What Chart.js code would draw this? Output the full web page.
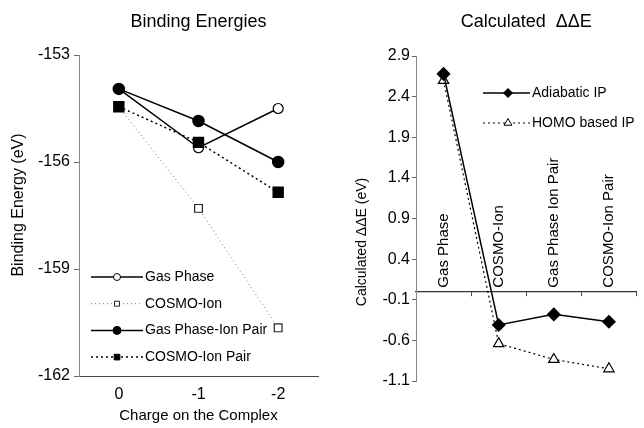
<!DOCTYPE html>
<html>
<head>
<meta charset="utf-8">
<script src="https://cdn.jsdelivr.net/npm/chart.js@4/dist/chart.umd.min.js"></script>
<style>
body { margin: 0; background: #fff; }
#bindingChart { position: absolute; left: 0; top: 0; }
#ddeChart { position: absolute; left: 330px; top: 0; }
</style>
</head>
<body>
<canvas id="bindingChart" width="330" height="428"></canvas>
<canvas id="ddeChart" width="314" height="428"></canvas>
<script>
// left panel: binding energies vs charge
const charges = ['0', '-1', '-2'];
const gasPhase = [-153.95, -155.6, -154.5];
const cosmoIon = [-154.45, -157.3, -160.65];
const gasPhaseIonPair = [-153.95, -154.85, -156.0];
const cosmoIonPair = [-154.45, -155.45, -156.85];

// right panel: calculated delta delta E
const methods = ['Gas Phase', 'COSMO-Ion', 'Gas Phase Ion Pair', 'COSMO-Ion Pair'];
const adiabaticIP = [2.68, -0.41, -0.28, -0.37];
const homoIP = [2.60, -0.64, -0.835, -0.95];

Chart.defaults.font.family = '"Liberation Sans", Arial, sans-serif';
Chart.defaults.color = '#000';

// legend drawn inside the plot area
const insideLegend = {
    id: 'insideLegend',
    afterDatasetsDraw(chart, args, opts) {
        let ctx = chart.ctx;
        let area = chart.chartArea;
        ctx.save();
        chart.data.datasets.forEach((ds, i) => {
            let x = area.left + opts.left;
            let y = area.top + opts.top + i * opts.gap;
            ctx.strokeStyle = ds.borderColor;
            ctx.lineWidth = ds.borderWidth;
            ctx.setLineDash(ds.borderDash || []);
            ctx.beginPath();
            ctx.moveTo(x, y);
            ctx.lineTo(x + opts.lineLength, y);
            ctx.stroke();
            ctx.setLineDash([]);
            ctx.fillStyle = ds.pointBackgroundColor;
            ctx.strokeStyle = ds.pointBorderColor;
            ctx.lineWidth = 1;
            Chart.helpers.drawPoint(ctx, {
                pointStyle: ds.pointStyle,
                radius: ds.legendRadius,
                borderWidth: 1,
                rotation: 0
            }, x + opts.markerAt, y);
            ctx.fillStyle = '#000';
            ctx.font = opts.font;
            ctx.textAlign = 'left';
            ctx.textBaseline = 'middle';
            ctx.fillText(ds.label, x + opts.lineLength + 2, y);
        });
        ctx.restore();
    }
};

// rotated y axis title at a set spot
const sideTitle = {
    id: 'sideTitle',
    afterDraw(chart, args, opts) {
        let ctx = chart.ctx;
        ctx.save();
        ctx.translate(opts.x, opts.y);
        ctx.rotate(-Math.PI / 2);
        ctx.font = opts.font;
        ctx.fillStyle = '#000';
        ctx.textAlign = 'center';
        ctx.textBaseline = 'middle';
        ctx.fillText(opts.text, 0, 0);
        ctx.restore();
    }
};

// category names written upwards just above the zero line
const upLabels = {
    id: 'upLabels',
    afterDraw(chart, args, opts) {
        let ctx = chart.ctx;
        let xs = chart.scales.x;
        let y0 = chart.scales.y.getPixelForValue(0);
        ctx.save();
        ctx.font = opts.font;
        ctx.fillStyle = '#000';
        ctx.textAlign = 'left';
        ctx.textBaseline = 'middle';
        chart.data.labels.forEach((label, i) => {
            ctx.save();
            ctx.translate(xs.getPixelForValue(i), y0 - 4);
            ctx.rotate(-Math.PI / 2);
            ctx.fillText(label, 0, 0);
            ctx.restore();
        });
        ctx.restore();
    }
};

new Chart(document.getElementById('bindingChart'), {
    type: 'line',
    data: {
        labels: charges,
        datasets: [{
            label: 'Gas Phase',
            data: gasPhase,
            order: 2,
            borderColor: '#000',
            borderWidth: 1.5,
            pointStyle: 'circle',
            pointRadius: 5,
            legendRadius: 3.5,
            pointBackgroundColor: '#fff',
            pointBorderColor: '#000',
            pointBorderWidth: 1.2
        }, {
            label: 'COSMO-Ion',
            data: cosmoIon,
            order: 3,
            borderColor: '#777',
            borderWidth: 1,
            borderDash: [1, 3],
            pointStyle: 'rect',
            pointRadius: 5.5,
            legendRadius: 3.5,
            pointBackgroundColor: '#fff',
            pointBorderColor: '#222',
            pointBorderWidth: 1.2
        }, {
            label: 'Gas Phase-Ion Pair',
            data: gasPhaseIonPair,
            order: 0,
            borderColor: '#000',
            borderWidth: 1.5,
            pointStyle: 'circle',
            pointRadius: 5.5,
            legendRadius: 4,
            pointBackgroundColor: '#000',
            pointBorderColor: '#000'
        }, {
            label: 'COSMO-Ion Pair',
            data: cosmoIonPair,
            order: 1,
            borderColor: '#000',
            borderWidth: 1.5,
            borderDash: [2, 3],
            pointStyle: 'rect',
            pointRadius: 7,
            legendRadius: 4,
            pointBackgroundColor: '#000',
            pointBorderColor: '#000'
        }]
    },
    options: {
        responsive: false,
        animation: false,
        layout: { padding: { left: 0, right: 12, top: 0, bottom: 3 } },
        plugins: {
            legend: { display: false },
            tooltip: { enabled: false },
            title: {
                display: true,
                text: 'Binding Energies',
                fullSize: false,
                font: { size: 18, weight: 'normal' },
                padding: { top: 11, bottom: 22.4 }
            },
            insideLegend: {
                left: 12, top: 222, gap: 26.7, lineLength: 52, markerAt: 26,
                font: '14px "Liberation Sans", Arial, sans-serif'
            },
            sideTitle: {
                text: 'Binding Energy (eV)', x: 19, y: 205,
                font: '16px "Liberation Sans", Arial, sans-serif'
            }
        },
        scales: {
            x: {
                offset: true,
                afterFit: s => { s.height = 49; },
                grid: { display: false, drawTicks: false },
                border: { display: true, color: '#444', width: 1 },
                ticks: { font: { size: 16 }, padding: 9 },
                title: {
                    display: true,
                    text: 'Charge on the Complex',
                    font: { size: 15 },
                    padding: { top: 4, bottom: 0 }
                }
            },
            y: {
                min: -162,
                max: -153,
                afterFit: s => { s.width = 79; },
                ticks: { stepSize: 3, font: { size: 16 }, padding: 4 },
                grid: { drawOnChartArea: false, tickLength: 5, color: '#666' },
                border: { display: true, color: '#888', width: 1 }
            }
        }
    },
    plugins: [insideLegend, sideTitle]
});

new Chart(document.getElementById('ddeChart'), {
    type: 'line',
    data: {
        labels: methods,
        datasets: [{
            label: 'Adiabatic IP',
            data: adiabaticIP,
            borderColor: '#000',
            borderWidth: 1.5,
            pointStyle: 'rectRot',
            pointRadius: 6,
            legendRadius: 4.5,
            pointBackgroundColor: '#000',
            pointBorderColor: '#000'
        }, {
            label: 'HOMO based IP',
            data: homoIP,
            borderColor: '#000',
            borderWidth: 1.2,
            borderDash: [2, 3],
            pointStyle: 'triangle',
            pointRadius: 6,
            legendRadius: 4.5,
            pointBackgroundColor: '#fff',
            pointBorderColor: '#000',
            pointBorderWidth: 1.2
        }]
    },
    options: {
        responsive: false,
        animation: false,
        layout: { padding: { left: 0, right: 0, top: 0, bottom: 47 } },
        plugins: {
            legend: { display: false },
            tooltip: { enabled: false },
            title: {
                display: true,
                text: 'Calculated  \u0394\u0394E',
                fullSize: false,
                font: { size: 18, weight: 'normal' },
                padding: { top: 11, bottom: 23.4 }
            },
            insideLegend: {
                left: 67, top: 37, gap: 30, lineLength: 47, markerAt: 25,
                font: '14px "Liberation Sans", Arial, sans-serif'
            },
            sideTitle: {
                text: 'Calculated \u0394\u0394E (eV)', x: 32, y: 242,
                font: '14px "Liberation Sans", Arial, sans-serif'
            },
            upLabels: { font: '15px "Liberation Sans", Arial, sans-serif' }
        },
        scales: {
            x: {
                position: { y: 0 },
                offset: true,
                ticks: { display: false },
                grid: { offset: true, drawOnChartArea: false, tickLength: 4, color: '#444' },
                border: { display: true, color: '#333', width: 1.2 }
            },
            y: {
                min: -1.1,
                max: 2.9,
                afterFit: s => { s.width = 86; },
                ticks: { stepSize: 0.5, font: { size: 16 }, padding: 2 },
                grid: { drawOnChartArea: false, tickLength: 4, color: '#666' },
                border: { display: true, color: '#888', width: 1 }
            }
        }
    },
    plugins: [insideLegend, sideTitle, upLabels]
});
</script>
</body>
</html>
